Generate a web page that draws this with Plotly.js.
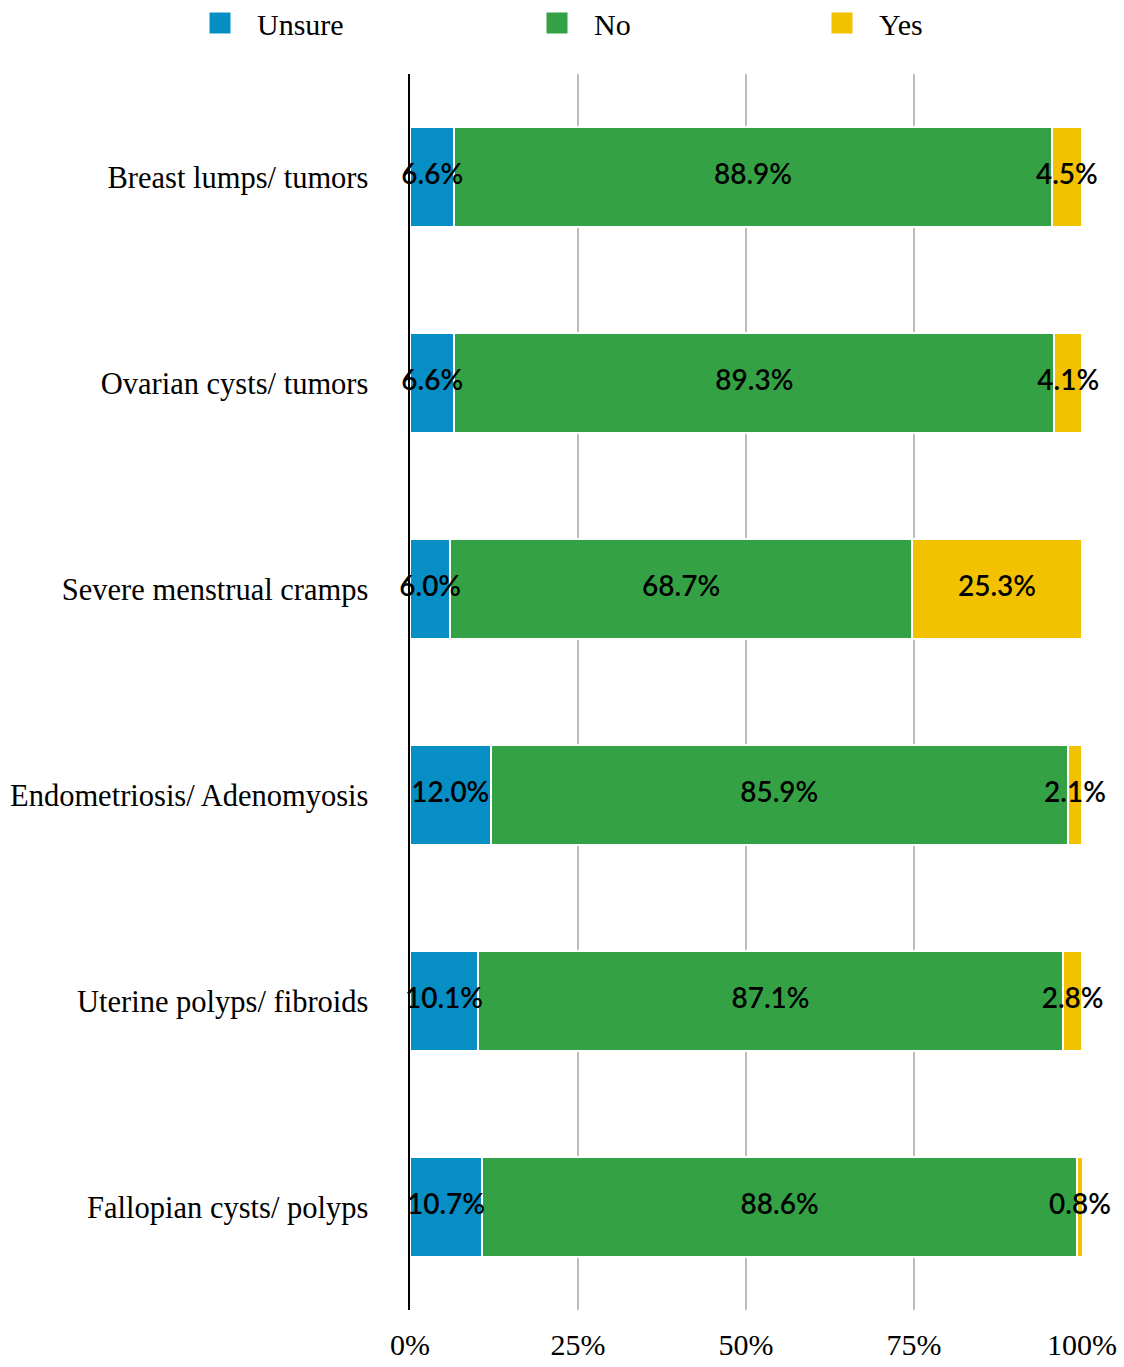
<!DOCTYPE html>
<html>
<head>
<meta charset="utf-8">
<script src="https://cdn.plot.ly/plotly-3.0.1.min.js"></script>
<style>html,body{margin:0;padding:0;background:#fff;}</style>
</head>
<body>
<div id="chart" style="width:1124px;height:1367px;"></div>
<script>
const categories = ["Breast lumps/ tumors","Ovarian cysts/ tumors","Severe menstrual cramps","Endometriosis/ Adenomyosis","Uterine polyps/ fibroids","Fallopian cysts/ polyps"];
const unsure = [6.6, 6.6, 6.0, 12.0, 10.1, 10.7];
const no = [88.9, 89.3, 68.7, 85.9, 87.1, 88.6];
const yes = [4.5, 4.1, 25.3, 2.1, 2.8, 0.8];
const tickVals = [0, 25, 50, 75, 100];
const tickText = ["0%", "25%", "50%", "75%", "100%"];

const seriesNames = ["Unsure", "No", "Yes"];
const seriesVals = [unsure, no, yes];
const colors = {Unsure: "#078ec4", No: "#34a244", Yes: "#f2c200"};
const legendX = {Unsure: 183, No: 520, Yes: 805};

const data = [];
const base = categories.map(() => 0);
seriesNames.forEach((name, i) => {
  const vals = seriesVals[i];
  data.push({
    type: "bar", orientation: "h", name: name,
    y: categories, x: vals, showlegend: false,
    marker: {color: colors[name], line: {color: "#fff", width: 2}},
    hoverinfo: "none"
  });
  const mids = vals.map((v, j) => base[j] + v / 2);
  vals.forEach((v, j) => base[j] += v);
  data.push({
    type: "scatter", mode: "text", showlegend: false,
    y: categories, x: mids,
    text: vals.map(v => v.toFixed(1) + "%"),
    textposition: "middle center",
    textfont: {family: "Lato, 'DejaVu Sans', sans-serif", size: 28, color: "#000", weight: 600},
    hoverinfo: "none", cliponaxis: false
  });
});
seriesNames.forEach((name, i) => {
  data.push({
    type: "scatter", mode: "markers", name: name, x: [null], y: [null],
    legend: i === 0 ? "legend" : "legend" + (i + 1),
    marker: {symbol: "square", size: 16, color: colors[name], line: {color: colors[name], width: 5}},
    hoverinfo: "none"
  });
});

const legendFont = {family: "'Liberation Serif', serif", size: 30, color: "#000"};
function leg(name) {
  return {orientation: "h", xref: "container", yref: "container",
    x: legendX[name] / 1124, xanchor: "left", y: 1 - 23 / 1367, yanchor: "middle",
    itemwidth: 64,
    font: legendFont, bgcolor: "rgba(0,0,0,0)"};
}
const layout = {
  width: 1124, height: 1367,
  margin: {l: 410, r: 42, t: 74, b: 57},
  barmode: "stack", bargap: 0.51,
  paper_bgcolor: "#fff", plot_bgcolor: "#fff",
  showlegend: true,
  legend: leg("Unsure"), legend2: leg("No"), legend3: leg("Yes"),
  xaxis: {range: [0, 100], tickvals: tickVals, ticktext: tickText, showgrid: true,
    gridcolor: "#bdbdbd", gridwidth: 1.5, zeroline: false, showline: false, ticks: "",
    ticklabelstandoff: 14,
    tickfont: {family: "'Liberation Serif', serif", size: 30, color: "#000"}, fixedrange: true},
  yaxis: {autorange: "reversed", showline: true, linecolor: "#000", linewidth: 2.5,
    ticks: "", showgrid: false, zeroline: false, ticklabelstandoff: 33,
    tickfont: {family: "'Liberation Serif', serif", size: 30.5, color: "#000"}, fixedrange: true},
  font: {family: "'Liberation Serif', serif"}
};
Plotly.newPlot("chart", data, layout, {displayModeBar: false, staticPlot: true});
</script>
</body>
</html>
